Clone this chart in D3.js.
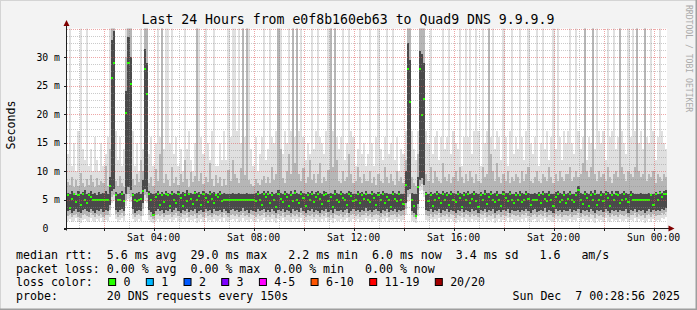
<!DOCTYPE html>
<html>
<head>
<meta charset="utf-8">
<script src="https://cdn.jsdelivr.net/npm/d3@7"></script>
<style>
html,body{margin:0;padding:0;background:#f3f3f3;}
svg{display:block;}
text{font-family:"DejaVu Sans Mono",monospace;white-space:pre;}
</style>
</head>
<body>
<svg id="chart" width="697" height="310" xml:space="preserve"></svg>
<script>
// ---------------- DATA ----------------
const title = "Last 24 Hours from e0f8b160eb63 to Quad9 DNS 9.9.9.9";
const startTime = new Date(2025, 11, 6, 0, 32, 0);   // Sat Dec 6 00:32
const stepMinutes = 5;
const yTicks = [0, 5, 10, 15, 20, 25, 30];
const yMaxMs = 35;

// median rtt (ms) per 5-minute step
const median = [
 5.9,3.6,5.2,6.0,4.6,5.8,4.2,6.1,5.0,4.4,5.9,5.5,5.0,5.0,5.0,5.0,5.0,5.0,5.0,5.0,7.5,26.3,29.0,5.9,
 5.0,5.0,6.0,4.8,20.2,28.9,25.3,5.9,5.0,4.9,5.0,5.1,6.6,28.0,23.5,6.0,5.0,2.3,5.5,6.0,4.2,5.8,4.6,6.0,
 5.8,4.0,6.1,5.0,4.4,6.0,5.3,3.9,5.9,4.8,6.0,5.2,4.3,6.2,5.0,5.7,4.1,6.0,5.4,4.7,6.0,5.1,4.5,5.9,
 5.6,6.0,4.9,5.0,5.0,5.0,5.0,5.0,5.0,5.0,5.0,5.0,5.0,5.0,5.0,5.0,5.0,5.0,4.8,6.0,5.0,4.2,6.0,5.5,
 6.0,4.5,5.8,5.0,3.8,6.1,5.2,4.6,6.0,5.5,4.0,5.9,4.9,6.2,5.0,4.4,6.0,5.3,3.9,5.8,5.0,6.0,4.6,5.6,
 6.0,5.1,4.3,5.9,6.0,4.8,5.5,3.7,6.0,5.0,4.6,6.1,5.4,5.0,4.2,6.0,5.7,4.9,5.0,6.0,4.4,5.8,5.2,6.0,
 5.0,4.7,6.0,5.3,4.1,5.9,5.0,6.0,4.5,5.6,5.0,3.8,6.0,5.2,4.9,6.1,5.0,4.3,7.6,27.9,22.1,5.0,4.0,2.2,
 7.3,27.9,19.8,22.7,6.0,4.8,5.9,3.9,5.0,6.0,5.4,4.4,6.0,5.0,5.8,4.2,6.1,5.0,4.7,6.0,5.3,3.8,5.9,5.0,
 6.0,4.5,5.2,6.0,4.9,3.7,5.8,5.0,6.1,4.3,5.5,6.0,5.0,4.6,5.9,5.0,4.0,6.0,5.3,4.8,6.0,5.0,4.4,5.8,
 5.0,5.9,4.6,5.0,6.0,5.2,4.1,5.0,5.0,5.0,5.8,4.5,6.0,5.1,4.8,5.9,5.0,3.9,5.6,6.0,4.7,5.0,5.9,4.4,
 5.2,6.0,5.0,4.6,5.8,6.8,5.0,4.3,6.0,5.3,4.0,5.9,5.0,6.1,4.2,5.0,5.9,4.9,6.0,5.4,4.0,5.8,5.0,6.0,
 5.9,4.4,5.0,6.0,5.2,4.6,5.9,5.0,5.0,5.0,5.0,5.0,5.0,5.0,5.0,5.0,5.8,4.2,6.0,5.0,6.2,5.6,6.0,6.0
];
// smoke: lowest ping (ms)
const pingMin = [
 1.3,1.6,1.1,1.4,1.8,1.2,1.0,1.5,1.7,1.3,1.2,1.9,1.4,1.1,1.6,1.3,1.8,1.2,1.5,1.4,2.0,4.5,4.8,1.6,
 1.2,1.5,1.8,1.3,4.0,5.2,4.6,1.7,1.1,1.4,1.6,1.3,2.2,4.8,4.4,1.5,1.2,1.0,1.4,1.7,1.3,1.6,1.1,1.5,
 1.4,1.7,1.2,1.5,1.9,1.3,1.1,1.6,1.4,1.8,1.2,1.5,1.3,1.7,1.0,1.4,1.6,1.2,1.8,1.3,1.5,1.1,1.7,1.4,
 1.3,1.6,1.2,1.8,1.4,1.1,1.5,1.7,1.3,1.6,1.2,1.4,1.9,1.3,1.5,1.1,1.6,1.4,1.2,1.7,1.3,1.5,1.8,1.2,
 1.5,1.2,1.7,1.4,1.0,1.6,1.3,1.8,1.2,1.5,1.4,1.1,1.7,1.3,1.6,1.2,1.9,1.4,1.1,1.5,1.3,1.7,1.2,1.6,
 1.4,1.1,1.6,1.3,1.8,1.2,1.5,1.0,1.7,1.4,1.3,1.6,1.2,1.5,1.8,1.1,1.4,1.7,1.3,1.6,1.2,1.5,1.4,1.9,
 1.3,1.6,1.2,1.5,1.7,1.4,1.1,1.6,1.3,1.8,1.2,1.5,1.4,1.7,1.2,1.6,1.3,1.5,2.4,4.6,5.0,1.4,1.2,1.0,
 2.2,6.5,6.8,5.6,1.5,1.3,1.7,1.2,1.6,1.4,1.8,1.1,1.5,1.3,1.7,1.2,1.6,1.4,1.0,1.5,1.3,1.8,1.2,1.6,
 1.4,1.2,1.7,1.3,1.5,1.1,1.6,1.4,1.8,1.2,1.5,1.3,1.7,1.0,1.4,1.6,1.2,1.5,1.3,1.8,1.1,1.6,1.4,1.3,
 1.5,1.2,1.6,1.4,1.8,1.3,1.1,1.5,1.7,1.2,1.4,1.6,1.3,1.9,1.2,1.5,1.4,1.1,1.7,1.3,1.6,1.2,1.5,1.4,
 1.3,1.7,1.2,1.5,1.4,1.8,1.1,1.6,1.3,1.5,1.2,1.7,1.4,1.0,1.6,1.3,1.5,1.2,1.8,1.4,1.1,1.6,1.3,1.5,
 1.2,1.6,1.4,1.3,1.7,1.1,1.5,1.4,1.8,1.2,1.6,1.3,1.5,1.0,1.4,1.7,1.2,1.6,1.3,1.5,1.4,1.8,1.6,2.0
];
// smoke: 2nd/3rd lowest ping (ms)
const pingLow = [
 2.2,2.5,2.0,2.3,2.6,2.1,1.9,2.4,2.6,2.2,2.1,2.7,2.3,2.0,2.5,2.2,2.6,2.1,2.4,2.3,3.2,5.5,5.8,2.5,
 2.1,2.4,2.7,2.2,5.0,6.0,5.6,2.6,2.0,2.3,2.5,2.2,3.4,5.8,5.4,2.4,2.1,1.6,2.3,2.6,2.2,2.5,2.0,2.4,
 2.3,2.6,2.1,2.4,2.8,2.2,2.0,2.5,2.3,2.7,2.1,2.4,2.2,2.6,1.9,2.3,2.5,2.1,2.7,2.2,2.4,2.0,2.6,2.3,
 2.2,2.5,2.1,2.7,2.3,2.0,2.4,2.6,2.2,2.5,2.1,2.3,2.8,2.2,2.4,2.0,2.5,2.3,2.1,2.6,2.2,2.4,2.7,2.1,
 2.4,2.1,2.6,2.3,1.9,2.5,2.2,2.7,2.1,2.4,2.3,2.0,2.6,2.2,2.5,2.1,2.8,2.3,2.0,2.4,2.2,2.6,2.1,2.5,
 2.3,2.0,2.5,2.2,2.7,2.1,2.4,1.9,2.6,2.3,2.2,2.5,2.1,2.4,2.7,2.0,2.3,2.6,2.2,2.5,2.1,2.4,2.3,2.8,
 2.2,2.5,2.1,2.4,2.6,2.3,2.0,2.5,2.2,2.7,2.1,2.4,2.3,2.6,2.1,2.5,2.2,2.4,3.4,5.6,6.0,2.3,2.0,1.7,
 3.2,7.5,7.8,6.6,2.4,2.2,2.6,2.1,2.5,2.3,2.7,2.0,2.4,2.2,2.6,2.1,2.5,2.3,1.9,2.4,2.2,2.7,2.1,2.5,
 2.3,2.1,2.6,2.2,2.4,2.0,2.5,2.3,2.7,2.1,2.4,2.2,2.6,1.9,2.3,2.5,2.1,2.4,2.2,2.7,2.0,2.5,2.3,2.2,
 2.4,2.1,2.5,2.3,2.7,2.2,2.0,2.4,2.6,2.1,2.3,2.5,2.2,2.8,2.1,2.4,2.3,2.0,2.6,2.2,2.5,2.1,2.4,2.3,
 2.2,2.6,2.1,2.4,2.3,2.7,2.0,2.5,2.2,2.4,2.1,2.6,2.3,1.9,2.5,2.2,2.4,2.1,2.7,2.3,2.0,2.5,2.2,2.4,
 2.1,2.5,2.3,2.2,2.6,2.0,2.4,2.3,2.7,2.1,2.5,2.2,2.4,1.9,2.3,2.6,2.1,2.5,2.2,2.4,2.3,2.7,2.5,2.9
];
// smoke: lower quartile (ms)
const pingQ1 = [
 3.0,3.3,2.8,3.1,3.5,2.9,2.7,3.2,3.4,3.0,2.9,3.5,3.1,2.8,3.3,3.0,3.4,2.9,3.2,3.1,4.2,6.5,7.0,3.3,
 2.9,3.2,3.5,3.0,6.0,7.2,6.8,3.4,2.8,3.1,3.3,3.0,4.5,7.0,6.4,3.2,2.9,2.2,3.1,3.4,3.0,3.3,2.8,3.2,
 3.1,3.4,2.9,3.2,3.6,3.0,2.8,3.3,3.1,3.5,2.9,3.2,3.0,3.4,2.7,3.1,3.3,2.9,3.5,3.0,3.2,2.8,3.4,3.1,
 3.0,3.3,2.9,3.5,3.1,2.8,3.2,3.4,3.0,3.3,2.9,3.1,3.6,3.0,3.2,2.8,3.3,3.1,2.9,3.4,3.0,3.2,3.5,2.9,
 3.2,2.9,3.4,3.1,2.7,3.3,3.0,3.5,2.9,3.2,3.1,2.8,3.4,3.0,3.3,2.9,3.6,3.1,2.8,3.2,3.0,3.4,2.9,3.3,
 3.1,2.8,3.3,3.0,3.5,2.9,3.2,2.7,3.4,3.1,3.0,3.3,2.9,3.2,3.5,2.8,3.1,3.4,3.0,3.3,2.9,3.2,3.1,3.6,
 3.0,3.3,2.9,3.2,3.4,3.1,2.8,3.3,3.0,3.5,2.9,3.2,3.1,3.4,2.9,3.3,3.0,3.2,4.5,6.8,7.0,3.1,2.7,2.3,
 4.3,8.5,8.8,7.6,3.2,3.0,3.4,2.9,3.3,3.1,3.5,2.8,3.2,3.0,3.4,2.9,3.3,3.1,2.7,3.2,3.0,3.5,2.9,3.3,
 3.1,2.9,3.4,3.0,3.2,2.8,3.3,3.1,3.5,2.9,3.2,3.0,3.4,2.7,3.1,3.3,2.9,3.2,3.0,3.5,2.8,3.3,3.1,3.0,
 3.2,2.9,3.3,3.1,3.5,3.0,2.8,3.2,3.4,2.9,3.1,3.3,3.0,3.6,2.9,3.2,3.1,2.8,3.4,3.0,3.3,2.9,3.2,3.1,
 3.0,3.4,2.9,3.2,3.1,3.5,2.8,3.3,3.0,3.2,2.9,3.4,3.1,2.7,3.3,3.0,3.2,2.9,3.5,3.1,2.8,3.3,3.0,3.2,
 2.9,3.3,3.1,3.0,3.4,2.8,3.2,3.1,3.5,2.9,3.3,3.0,3.2,2.7,3.1,3.4,2.9,3.3,3.0,3.2,3.1,3.5,3.3,3.6
];
// smoke: upper quartile (ms)
const pingQ3 = [
 6.3,6.0,6.5,6.2,5.9,6.6,6.1,6.4,6.8,6.0,6.3,6.5,6.1,6.2,5.9,6.4,6.0,6.3,6.6,6.1,9.0,33.0,34.5,6.4,
 6.0,6.2,6.5,6.1,24.0,33.5,30.0,6.3,6.0,6.2,6.4,6.1,8.5,31.5,29.0,6.5,6.2,6.0,6.3,6.6,6.1,6.4,6.0,6.5,
 6.2,6.0,6.6,6.3,6.1,6.5,6.0,6.4,6.2,6.7,6.1,6.3,6.0,6.5,6.2,6.4,6.1,6.6,6.3,6.0,6.5,6.2,6.4,6.1,
 6.3,6.6,6.0,6.2,6.1,6.0,6.1,6.2,6.0,6.1,6.2,6.0,6.1,6.0,6.2,6.1,6.0,6.1,6.3,6.5,6.0,6.2,6.6,6.3,
 6.5,6.1,6.4,6.0,6.3,6.7,6.2,6.0,6.5,6.3,6.1,6.6,6.0,6.8,6.2,6.1,6.5,6.3,6.0,6.4,6.2,6.6,6.1,6.4,
 6.6,6.2,6.0,6.5,6.4,6.1,6.3,6.0,6.7,6.2,6.1,6.6,6.3,6.0,6.2,6.5,6.4,6.1,6.0,6.6,6.2,6.4,6.1,6.5,
 6.1,6.0,6.5,6.3,6.0,6.4,6.1,6.6,6.2,6.3,6.0,6.1,6.5,6.2,6.0,6.6,6.1,6.0,10.0,32.5,29.5,6.2,6.0,6.1,
 9.0,31.0,30.5,29.0,6.4,6.1,6.4,6.0,6.2,6.5,6.3,6.1,6.6,6.2,6.4,6.0,6.5,6.2,6.1,6.6,6.3,6.0,6.4,6.2,
 6.5,6.1,6.3,6.6,6.2,6.0,6.4,6.1,6.7,6.2,6.3,6.6,6.1,6.2,6.5,6.1,6.0,6.6,6.3,6.2,6.5,6.1,6.0,6.4,
 6.1,6.5,6.2,6.0,6.6,6.3,6.0,6.1,6.2,6.0,6.4,6.1,6.6,6.2,6.3,6.5,6.1,6.0,6.4,6.6,6.2,6.1,6.5,6.0,
 6.3,6.6,6.1,6.0,6.4,7.5,6.2,6.0,6.6,6.3,6.1,6.5,6.2,6.7,6.0,6.1,6.5,6.2,6.6,6.4,6.0,6.5,6.1,6.6,
 6.5,6.0,6.2,6.6,6.3,6.1,6.5,6.2,6.1,6.0,6.1,6.2,6.0,6.1,6.0,6.2,6.1,6.0,6.4,6.1,6.6,6.2,6.5,6.7
];
// smoke: 2nd/3rd highest ping (ms); 40 = beyond top of graph
const pingHigh = [
 8.2,7.6,9.0,7.2,8.5,7.4,9.8,8.0,7.3,8.6,7.7,9.4,8.1,7.2,8.8,7.6,8.3,7.9,11,7.5,14,40,40,8.4,
 7.5,9.2,8.0,7.3,30,40,40,8.6,7.6,9.6,8.1,12,10,36,40,8.0,9.0,7.4,10.5,8.3,13,40,7.9,9.5,
 8.5,7.4,10.8,8.0,9.1,7.7,9.6,8.2,12,8.6,7.3,9.9,8.1,9.2,40,8.4,9.7,7.8,9.0,8.1,11.5,8.6,7.5,9.4,
 8.0,9.1,7.5,8.6,7.7,10.2,8.4,12,9.5,8.8,7.9,10.6,40,9.4,40,8.5,7.8,7.4,8.6,8.0,7.7,8.5,9.2,8.0,
 9.0,8.0,10.8,8.5,9.6,40,14,8.9,7.9,10.1,13,9.6,40,11.5,40,9.5,8.4,10.6,7.9,9.0,12,8.5,9.6,7.9,
 9.5,11.5,7.9,9.0,8.4,10.2,40,10.8,40,12,8.4,7.9,10.1,8.4,9.0,13,9.6,7.9,8.4,10.8,9.0,7.9,9.6,8.4,
 8.4,10.1,7.9,9.0,7.6,9.6,8.4,7.9,10.8,9.0,7.9,9.6,8.4,7.6,10.1,8.4,9.0,7.9,12,40,40,9.0,7.9,7.4,
 13,40,40,40,9.6,8.4,10.8,7.9,10.1,9.0,8.4,7.9,11.5,9.0,8.4,9.6,7.9,9.0,10.1,8.4,10.8,9.0,7.9,9.6,
 8.4,10.1,9.0,7.9,9.6,8.4,7.9,10.8,9.0,9.6,40,13,10.1,8.4,11.5,9.0,7.9,9.6,8.4,10.1,7.9,9.0,8.4,9.6,
 9.0,7.9,10.1,8.4,9.6,10.8,8.4,7.9,9.0,10.1,8.4,7.9,9.6,9.0,8.4,10.8,9.0,7.9,9.6,8.4,10.1,9.0,8.4,9.6,
 9.6,10.8,8.4,9.0,10.1,9.0,9.6,11.5,40,10.1,9.0,10.8,40,9.6,8.4,10.1,9.0,9.6,8.4,10.8,9.0,7.9,9.6,10.1,
 9.0,40,10.8,9.6,8.4,10.1,9.6,9.0,10.8,40,10.1,9.0,9.6,40,8.4,9.6,9.0,10.1,7.9,9.6,9.0,8.4,9.6,9.0
];
// smoke: highest ping (ms); 40 = beyond top of graph
const pingMax = [
 13,40,11,15,10,17,40,14,12,40,11,14,10,16,12,10,15,11,13,16,40,40,40,17,
 12,16,11,14,40,40,40,17,11,15,10,40,14,40,40,13,16,11,15,40,16,40,14,40,
 40,15,40,13,16,11,14,10,40,14,17,12,10,15,40,40,16,13,40,15,12,17,40,11,
 11,15,12,17,12,40,16,40,40,17,40,15,40,16,40,40,14,11,16,10,13,16,40,12,
 14,40,16,15,17,40,40,13,17,15,40,17,40,16,40,17,40,16,12,15,13,40,14,17,
 40,16,15,13,17,40,40,17,40,16,14,16,40,12,15,40,17,16,11,14,40,13,15,11,
 13,40,15,11,16,40,14,12,16,40,13,15,40,12,16,10,14,13,17,40,40,17,14,12,
 17,40,40,40,17,15,40,13,16,17,12,16,40,14,16,40,13,17,15,14,40,11,16,40,
 16,40,13,17,40,17,11,40,15,17,40,16,40,14,17,16,12,40,16,11,17,40,13,16,
 14,40,16,12,17,40,15,13,16,40,11,15,40,14,17,12,16,40,14,40,16,12,17,15,
 17,40,15,13,40,17,14,16,40,12,16,15,40,14,40,17,15,17,12,40,16,17,40,14,
 16,40,17,15,13,40,16,40,17,40,15,17,14,40,16,15,40,17,12,16,40,17,15,14
];

const legendRows = [
  "median rtt:  5.6 ms avg  29.0 ms max   2.2 ms min  6.0 ms now  3.4 ms sd   1.6   am/s",
  "packet loss: 0.00 % avg  0.00 % max  0.00 % min   0.00 % now",
  "loss color:",
  "probe:       20 DNS requests every 150s"
];
const lossLabels = ["0", "1", "2", "3", "4-5", "6-10", "11-19", "20/20"];
const lossColors = ["#26ff00", "#00b8ff", "#0059ff", "#7e00ff", "#ff00ff", "#ff5500", "#ff0000", "#a10000"];
const stampText = "Sun Dec  7 00:28:56 2025";
const watermark = "RRDTOOL / TOBI OETIKER";

// ---------------- DRAW ----------------
const W = 697, H = 310;
const svg = d3.select("#chart");
const plot = {left: 67, right: 667, top: 28.5, bottom: 228.5};
const n = median.length;
const endTime = d3.timeMinute.offset(startTime, stepMinutes * n);
const x = d3.scaleTime().domain([startTime, endTime]).range([plot.left, plot.right]);
const y = d3.scaleLinear().domain([0, yMaxMs]).range([plot.bottom, plot.top]);

// background + frame
svg.append("rect").attr("width", W).attr("height", H).attr("fill", "#f3f3f3");
svg.append("path").attr("d", `M0,${H} V0 H${W}`).attr("fill", "none").attr("stroke", "#d4d4d4").attr("stroke-width", 2);
svg.append("path").attr("d", `M${W},0 V${H} H0`).attr("fill", "none").attr("stroke", "#9e9e9e").attr("stroke-width", 3);

svg.append("rect").attr("x", plot.left).attr("y", plot.top).attr("width", plot.right - plot.left)
  .attr("height", plot.bottom - plot.top).attr("fill", "#ffffff");

svg.append("defs").append("clipPath").attr("id", "clip").append("rect")
  .attr("x", plot.left).attr("y", plot.top).attr("width", plot.right - plot.left).attr("height", plot.bottom - plot.top);

const cols = d3.range(n).map(i => ({
  t0: d3.timeMinute.offset(startTime, stepMinutes * i),
  t1: d3.timeMinute.offset(startTime, stepMinutes * (i + 1)),
  min: pingMin[i], low: pingLow[i], q1: pingQ1[i], q3: pingQ3[i], high: pingHigh[i], max: pingMax[i], med: median[i]
}));

const g = svg.append("g").attr("clip-path", "url(#clip)").attr("shape-rendering", "crispEdges");
function band(lo, hi, color) {
  g.append("g").selectAll("rect").data(cols).join("rect")
    .attr("x", d => x(d.t0))
    .attr("width", d => x(d.t1) - x(d.t0))
    .attr("y", d => y(d[hi]))
    .attr("height", d => Math.max(0, y(d[lo]) - y(d[hi])))
    .attr("fill", color);
}
band("min", "max", "#e0e0e0");
band("low", "high", "#b6b6b6");
band("q1", "q3", "#4a4a4a");
// median markers
g.append("g").selectAll("rect").data(cols).join("rect")
  .attr("x", d => x(d.t0))
  .attr("width", d => x(d.t1) - x(d.t0))
  .attr("y", d => y(d.med) - 1)
  .attr("height", 2)
  .attr("fill", lossColors[0]);

// grid
const gridG = svg.append("g").attr("shape-rendering", "crispEdges");
const hours = d3.timeHour.range(d3.timeHour.ceil(startTime), endTime);
hours.forEach(h => {
  const major = h.getHours() % 2 === 0;
  const xx = Math.round(x(h)) + 0.5;
  gridG.append("line").attr("x1", xx).attr("x2", xx).attr("y1", plot.top).attr("y2", plot.bottom)
    .attr("stroke", major ? "rgba(222,80,80,0.5)" : "rgba(140,140,140,0.45)")
    .attr("stroke-dasharray", "1,1");
});
d3.range(0, yMaxMs + 0.001, 1.25).forEach(v => {
  if (v === 0) return;
  const major = Math.abs(v % 5) < 1e-6;
  const yy = Math.round(y(v)) + 0.5;
  gridG.append("line").attr("x1", plot.left).attr("x2", plot.right).attr("y1", yy).attr("y2", yy)
    .attr("stroke", major ? "rgba(222,80,80,0.5)" : "rgba(140,140,140,0.45)")
    .attr("stroke-dasharray", "1,1");
});

// axes
const axisColor = "#202020";
svg.append("line").attr("x1", plot.left - 0.5).attr("x2", plot.left - 0.5).attr("y1", plot.bottom + 2).attr("y2", plot.top - 4)
  .attr("stroke", axisColor);
svg.append("line").attr("x1", plot.left - 3).attr("x2", plot.right + 2).attr("y1", plot.bottom).attr("y2", plot.bottom)
  .attr("stroke", axisColor);
svg.append("path").attr("d", `M${plot.left - 3.5},${plot.top - 2.5} L${plot.left + 2.5},${plot.top - 2.5} L${plot.left - 0.5},${plot.top - 8.5} Z`).attr("fill", "#800000");
svg.append("path").attr("d", `M${plot.right + 1.5},${plot.bottom - 3} L${plot.right + 1.5},${plot.bottom + 3} L${plot.right + 7.5},${plot.bottom} Z`).attr("fill", "#800000");

// x labels
const fmt = d3.timeFormat("%a %H:%M");
const labelTicks = x.ticks(d3.timeHour.every(4));
svg.append("g").selectAll("text").data(labelTicks).join("text")
  .attr("x", d => x(d)).attr("y", 240.5).attr("text-anchor", "middle")
  .attr("font-size", "9.8px").attr("fill", "#000").text(d => fmt(d));
hours.filter(h => h.getHours() % 2 === 0).forEach(h => {
  const xx = Math.round(x(h)) + 0.5;
  svg.append("line").attr("x1", xx).attr("x2", xx).attr("y1", plot.bottom).attr("y2", plot.bottom + 2.5).attr("stroke", axisColor);
});

// y labels
svg.append("g").selectAll("text").data(yTicks).join("text")
  .attr("x", d => d === 0 ? 48.3 : 60).attr("y", d => y(d) + 3.5).attr("text-anchor", "end")
  .attr("font-size", "9.8px").attr("fill", "#000").text(d => d === 0 ? "0" : `${d} m`);
yTicks.forEach(v => {
  const yy = Math.round(y(v)) + 0.5;
  svg.append("line").attr("x1", plot.left - 3).attr("x2", plot.left).attr("y1", yy).attr("y2", yy).attr("stroke", axisColor);
});

// title, axis title, watermark
svg.append("text").attr("x", 348).attr("y", 23.5).attr("text-anchor", "middle").attr("font-size", "13.2px").attr("fill", "#000").text(title);
svg.append("text").attr("transform", "translate(15,125) rotate(-90)").attr("text-anchor", "middle")
  .attr("font-size", "11.6px").attr("fill", "#000").text("Seconds");
svg.append("text").attr("transform", "translate(685.5,5) rotate(90)").attr("text-anchor", "start")
  .attr("font-size", "8.1px").attr("fill", "#aaaaaa").text(watermark);

// legend
const rowY = [259, 272.5, 286, 299.5];
const legendX = 16, charW = 6.98;
legendRows.forEach((t, i) => {
  svg.append("text").attr("x", legendX).attr("y", rowY[i]).attr("font-size", "11.6px").attr("fill", "#000").text(t);
});
let bx = legendX + 13.2 * charW;
lossLabels.forEach((lab, i) => {
  svg.append("rect").attr("x", bx + 0.5).attr("y", 278.5).attr("width", 7).attr("height", 7)
    .attr("fill", lossColors[i]).attr("stroke", "#000").attr("stroke-width", 1);
  const tx = bx + 2.2 * charW;
  svg.append("text").attr("x", tx).attr("y", rowY[2]).attr("font-size", "11.6px").attr("fill", "#000").text(lab);
  bx = tx + (lab.length + 2.2) * charW;
});
svg.append("text").attr("x", 680).attr("y", rowY[3]).attr("text-anchor", "end").attr("font-size", "11.6px").attr("fill", "#000").text(stampText);
</script>
</body>
</html>
